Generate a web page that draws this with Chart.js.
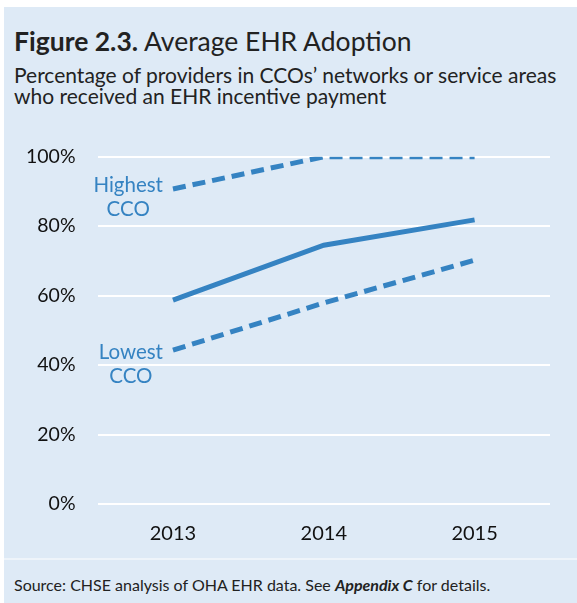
<!DOCTYPE html>
<html>
<head>
<meta charset="utf-8">
<script src="https://cdn.jsdelivr.net/npm/chart.js@4/dist/chart.umd.min.js"></script>
<style>
  body { margin: 0; background: #fff; font-family: Lato, sans-serif; }
  .box { position: absolute; left: 4px; top: 7px; width: 573px; height: 596px; background: #deeaf6; }
  .titre { position: absolute; left: 10px; top: 18px; font-size: 26.5px; color: #222; white-space: nowrap; }
  .titre b { font-weight: 700; }
  .soustitre { position: absolute; left: 10px; top: 57px; font-size: 21px; line-height: 21px; color: #222; white-space: nowrap; }
  .graph { position: absolute; left: 0; top: 116px; width: 573px; height: 433px; }
  .sep { position: absolute; left: 0; top: 551px; width: 573px; height: 2px; background: #eef4fa; }
  .source { position: absolute; left: 10px; top: 568px; font-size: 16px; color: #222; white-space: nowrap; }
</style>
</head>
<body>
<div class="box">
  <div class="titre"><b>Figure 2.3.</b> Average EHR Adoption</div>
  <div class="soustitre">Percentage of providers in CCOs’ networks or service areas<br>who received an EHR incentive payment</div>
  <div class="graph"><canvas id="canva" width="573" height="433"></canvas></div>
  <div class="sep"></div>
  <div class="source">Source: CHSE analysis of OHA EHR data. See <b><i>Appendix C</i></b> for details.</div>
</div>
<script>
// donnees
var annees = ["2013", "2014", "2015"];
var moyenne = [58.7, 74.5, 81.8];
var plusHaut = [90.7, 100, 100];
var plusBas = [44.3, 57.9, 70.2];
var ticksY = [0, 20, 40, 60, 80, 100];

var bleu = "#3583c2";

// etiquettes "Highest CCO" / "Lowest CCO" a cote du premier point
var etiquettes = {
  id: "etiquettes",
  afterDatasetsDraw(chart) {
    var ctx = chart.ctx;
    var noms = [null, ["Highest", "CCO", 3], ["Lowest", "CCO", 9]];
    ctx.save();
    ctx.fillStyle = bleu;
    ctx.font = "20.5px Lato";
    ctx.textAlign = "center";
    ctx.textBaseline = "alphabetic";
    for (var d = 1; d < 3; d++) {
      var pt = chart.getDatasetMeta(d).data[0];
      var larg = ctx.measureText(noms[d][0]).width;
      var x = pt.x - 10 - larg / 2;
      ctx.fillText(noms[d][0], x, pt.y + noms[d][2]);
      ctx.fillText(noms[d][1], x, pt.y + noms[d][2] + 24);
    }
    ctx.restore();
  }
};

var myChart = new Chart(document.getElementById("canva"), {
  type: "line",
  data: {
    labels: annees,
    datasets: [
      { label: "Average", data: moyenne, borderColor: bleu, borderWidth: 5, pointRadius: 0, tension: 0 },
      { label: "Highest CCO", data: plusHaut, borderColor: bleu, borderWidth: 5, borderDash: [13, 7], pointRadius: 0, tension: 0 },
      { label: "Lowest CCO", data: plusBas, borderColor: bleu, borderWidth: 5, borderDash: [13, 7], pointRadius: 0, tension: 0 }
    ]
  },
  options: {
    responsive: false,
    animation: false,
    layout: { padding: { top: 0, right: 27, left: 0, bottom: 0 } },
    plugins: { legend: { display: false }, tooltip: { enabled: false } },
    scales: {
      x: {
        offset: true,
        grid: { display: false },
        border: { display: false },
        ticks: { color: "#111", font: { family: "Lato", size: 20 }, padding: 10 }
      },
      y: {
        min: 0, max: 100,
        afterBuildTicks: function (axis) { axis.ticks = ticksY.map(function (v) { return { value: v }; }); },
        grid: { color: "#ffffff", lineWidth: 2, drawTicks: false },
        border: { display: false },
        ticks: { color: "#111", font: { family: "Lato", size: 19.5 }, padding: 22, callback: function (v) { return v + "%"; } }
      }
    }
  },
  plugins: [etiquettes]
});
</script>
</body>
</html>
